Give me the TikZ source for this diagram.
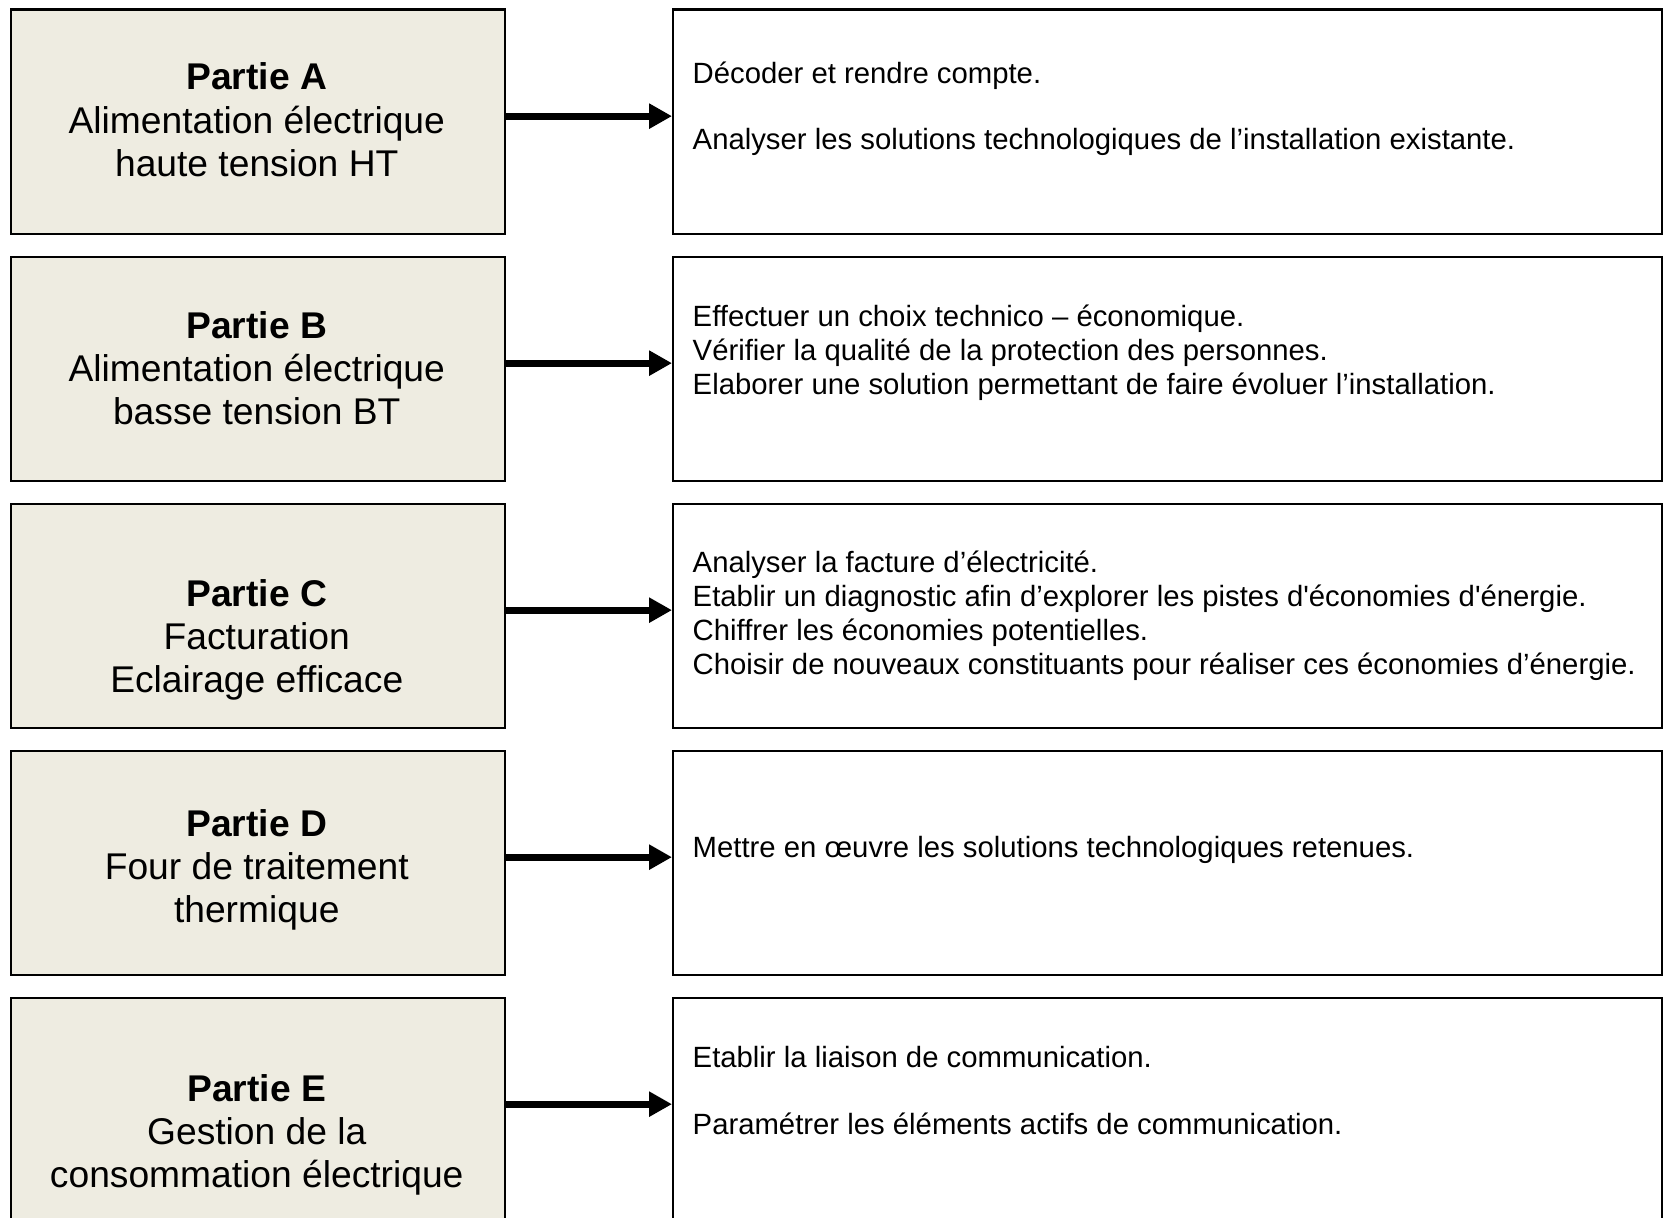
\documentclass[tikz,border=0pt]{standalone}
\usepackage{fontspec}
\setmainfont{Liberation Sans}[Ligatures=TeXOff]
\usetikzlibrary{arrows.meta}
\definecolor{boxbeige}{HTML}{EEECE1}
\tikzset{
  partbox/.style={draw=black, line width=2.3pt, fill=boxbeige, minimum width=493.5pt, minimum height=224.5pt, anchor=north west, inner sep=0pt},
  taskbox/.style={draw=black, line width=2.3pt, fill=white, minimum width=989pt, minimum height=224.5pt, anchor=north west, inner sep=0pt},
  parttext/.style={anchor=base, inner sep=0pt, font=\fontsize{37.2pt}{43.3pt}\selectfont},
  tasktext/.style={anchor=base west, inner sep=0pt, font=\fontsize{29.3pt}{34pt}\selectfont},
  flow/.style={line width=7pt, -{Triangle[length=23pt,width=24pt]}},
}
\begin{document}
\begin{tikzpicture}[x=1pt,y=-1pt]
\useasboundingbox (0,0) rectangle (1669,1217);

% left boxes
\node[partbox] (pA) at (10,8.5) {};
\node[partbox] (pB) at (10,255.5) {};
\node[partbox] (pC) at (10,502.5) {};
\node[partbox] (pD) at (10,749.5) {};
\node[partbox] (pE) at (10,996.5) {};

% right boxes
\node[taskbox] (tA) at (672,8.5) {};
\node[taskbox] (tB) at (672,255.5) {};
\node[taskbox] (tC) at (672,502.5) {};
\node[taskbox] (tD) at (672,749.5) {};
\node[taskbox] (tE) at (672,996.5) {};

% left texts
\node[parttext] (lA) at (256.75,90) {\begin{tabular}[t]{@{}c@{}}\textbf{Partie A}\\Alimentation électrique\\haute tension HT\end{tabular}};
\node[parttext] (lB) at (256.75,338) {\begin{tabular}[t]{@{}c@{}}\textbf{Partie B}\\Alimentation électrique\\basse tension BT\end{tabular}};
\node[parttext] (lC) at (256.75,606) {\begin{tabular}[t]{@{}c@{}}\textbf{Partie C}\\Facturation\\Eclairage efficace\end{tabular}};
\node[parttext] (lD) at (256.75,836) {\begin{tabular}[t]{@{}c@{}}\textbf{Partie D}\\Four de traitement\\thermique\end{tabular}};
\node[parttext] (lE) at (256.75,1101) {\begin{tabular}[t]{@{}c@{}}\textbf{Partie E}\\Gestion de la\\consommation électrique\end{tabular}};

% right texts
\node[tasktext] (rA) at (692.5,83.5) {\begin{tabular}[t]{@{}l@{}}Décoder et rendre compte.\\[32pt]Analyser les solutions technologiques de l’installation existante.\end{tabular}};
\node[tasktext] (rB) at (692.5,326.5) {\begin{tabular}[t]{@{}l@{}}Effectuer un choix technico – économique.\\Vérifier la qualité de la protection des personnes.\\Elaborer une solution permettant de faire évoluer l’installation.\end{tabular}};
\node[tasktext] (rC) at (692.5,572.5) {\begin{tabular}[t]{@{}l@{}}Analyser la facture d’électricité.\\Etablir un diagnostic afin d’explorer les pistes d'économies d'énergie.\\Chiffrer les économies potentielles.\\Choisir de nouveaux constituants pour réaliser ces économies d’énergie.\end{tabular}};
\node[tasktext] (rD) at (692.5,857) {Mettre en œuvre les solutions technologiques retenues.};
\node[tasktext] (rE) at (692.5,1067) {\begin{tabular}[t]{@{}l@{}}Etablir la liaison de communication.\\[33pt]Paramétrer les éléments actifs de communication.\end{tabular}};

% arrows
\draw[flow] ([yshift=5.75pt]pA.east) -- ([yshift=5.75pt]tA.west);
\draw[flow] ([yshift=5.75pt]pB.east) -- ([yshift=5.75pt]tB.west);
\draw[flow] ([yshift=5.75pt]pC.east) -- ([yshift=5.75pt]tC.west);
\draw[flow] ([yshift=5.75pt]pD.east) -- ([yshift=5.75pt]tD.west);
\draw[flow] ([yshift=5.75pt]pE.east) -- ([yshift=5.75pt]tE.west);
\end{tikzpicture}
\end{document}
